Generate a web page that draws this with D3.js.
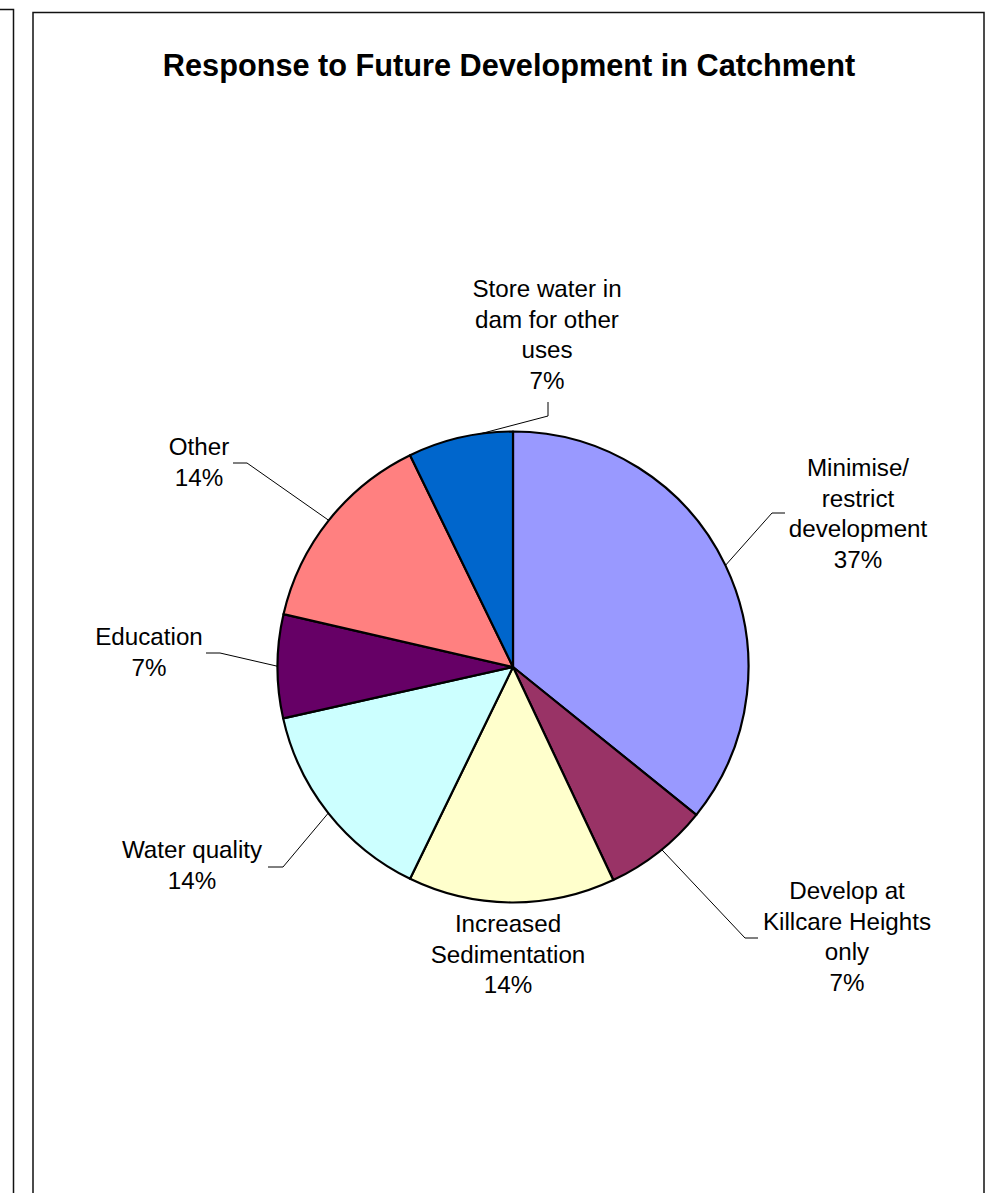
<!DOCTYPE html>
<html>
<head>
<meta charset="utf-8">
<script src="https://cdn.jsdelivr.net/npm/d3@7"></script>
<style>
  html, body { margin: 0; padding: 0; background: #fff; }
  svg { display: block; }
  text { font-family: "Liberation Sans", Arial, sans-serif; fill: #000; }
</style>
</head>
<body>
<script>
// ---- data ----
const categories = [
  "Minimise/ restrict development",
  "Develop at Killcare Heights only",
  "Increased Sedimentation",
  "Water quality",
  "Education",
  "Other",
  "Store water in dam for other uses"
];
// slice shares
const values = [35.8, 7.2, 14.2, 14.3, 7.1, 14.2, 7.2];
// percentage labels as printed on the chart
const percentLabels = ["37%", "7%", "14%", "14%", "7%", "14%", "7%"];
const labelLines = [
  ["Minimise/", "restrict", "development"],
  ["Develop at", "Killcare Heights", "only"],
  ["Increased", "Sedimentation"],
  ["Water quality"],
  ["Education"],
  ["Other"],
  ["Store water in", "dam for other", "uses"]
];
const colors = ["#9999FF", "#993366", "#FFFFCC", "#CCFFFF", "#660066", "#FF8080", "#0066CC"];
const title = "Response to Future Development in Catchment";

// ---- layout ----
const W = 995, H = 1193;
const cx = 513, cy = 667, R = 235.5;
const lineH = 30.6;
// label anchor (center x, first baseline y), leader: start point, elbow point, angle offset (deg) for attach
const labelLayout = [
  { x: 858, y: 476, leader: [[785, 513], [772, 513]], dA: 0 },
  { x: 847, y: 899, leader: [[758, 938], [745, 938]], dA: -1 },
  { x: 508, y: 932, leader: null, dA: 0 },
  { x: 192, y: 858, leader: [[268, 867], [283, 867]], dA: 0 },
  { x: 149, y: 645, leader: [[206, 653], [220, 653]], dA: 0 },
  { x: 199, y: 455, leader: [[233, 463], [247, 463]], dA: 0 },
  { x: 547, y: 297, leader: [[548, 402], [548, 416]], dA: 5 }
];

const svg = d3.select("body").append("svg").attr("width", W).attr("height", H);

// frames
svg.append("path")
  .attr("d", "M0,9.5 H13.5 V1193")
  .attr("fill", "none").attr("stroke", "#111").attr("stroke-width", 1.5);
svg.append("rect")
  .attr("x", 33).attr("y", 12.5).attr("width", 951).attr("height", 1200)
  .attr("fill", "#fff").attr("stroke", "#111").attr("stroke-width", 1.5);

// title
svg.append("text")
  .attr("x", 509).attr("y", 76)
  .attr("text-anchor", "middle")
  .style("font-weight", "bold").style("font-size", "30.7px")
  .text(title);

const data = categories.map((c, i) => ({ name: c, value: values[i], color: colors[i], i }));
const pie = d3.pie().value(d => d.value).sort(null);
const arcs = pie(data);
const arc = d3.arc().innerRadius(0).outerRadius(R);

const g = svg.append("g").attr("transform", `translate(${cx},${cy})`);
g.selectAll("path.slice").data(arcs).enter().append("path")
  .attr("class", "slice")
  .attr("d", arc)
  .attr("fill", d => d.data.color)
  .attr("stroke", "#000").attr("stroke-width", 2.2).attr("stroke-linejoin", "round");

// leader lines
arcs.forEach((a, i) => {
  const L = labelLayout[i];
  if (!L.leader) return;
  const mid = (a.startAngle + a.endAngle) / 2 + L.dA * Math.PI / 180;
  const px = cx + R * Math.sin(mid), py = cy - R * Math.cos(mid);
  const pts = [L.leader[0], L.leader[1], [px, py]];
  svg.append("path")
    .attr("d", d3.line()(pts))
    .attr("fill", "none").attr("stroke", "#000").attr("stroke-width", 1);
});

// labels
arcs.forEach((a, i) => {
  const L = labelLayout[i];
  const lines = labelLines[i].concat([percentLabels[i]]);
  const t = svg.append("text")
    .attr("text-anchor", "middle")
    .style("font-size", "24.2px");
  lines.forEach((s, k) => {
    t.append("tspan").attr("x", L.x).attr("y", L.y + k * lineH).text(s);
  });
});
</script>
</body>
</html>
